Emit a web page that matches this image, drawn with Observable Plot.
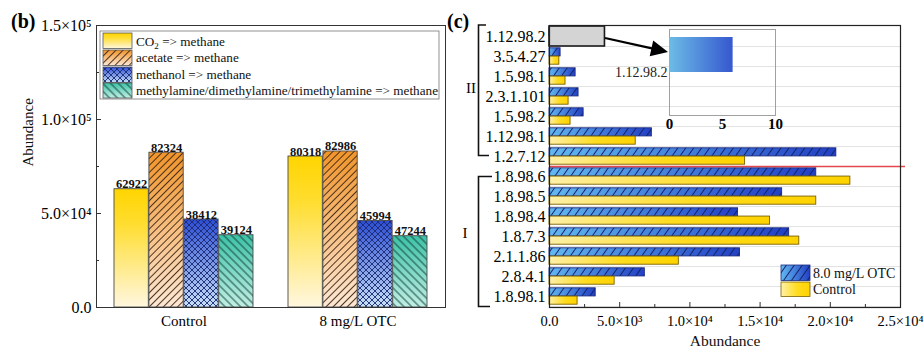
<!DOCTYPE html>
<html><head><meta charset="utf-8">
<script src="https://cdn.jsdelivr.net/npm/d3@7"></script>
<script src="https://cdn.jsdelivr.net/npm/@observablehq/plot@0.6"></script>
<style>
body{margin:0;background:#fff;}
#wrap{position:relative;width:924px;height:353px;overflow:hidden;font-family:"Liberation Serif","Times New Roman","DejaVu Serif",serif;background:#fff;}
#wrap > svg{position:absolute;}
</style></head><body><div id="wrap"></div>
<script>
// ---------- Panel (b) data ----------
const groups = ["Control", "8 mg/L OTC"];
const pathwayNames = ["CO2 => methane", "acetate => methane", "methanol => methane", "methylamine/dimethylamine/trimethylamine => methane"];
const co2Values = [62922, 80318];
const acetateValues = [82324, 82986];
const methanolValues = [46800, 45994];
const methylamineValues = [38460, 37930];
const co2Labels = ["62922", "80318"];
const acetateLabels = ["82324", "82986"];
const methanolLabels = ["38412", "45994"];
const methylamineLabels = ["39124", "47244"];
const bTicks = [0, 50000, 100000, 150000];
const bTickLabels = ["0.0", "5.0×10⁴", "1.0×10⁵", "1.5×10⁵"];
const bMinorTicks = [25000, 75000, 125000];

// ---------- Panel (c) data ----------
const enzymes = ["1.12.98.2", "3.5.4.27", "1.5.98.1", "2.3.1.101", "1.5.98.2", "1.12.98.1", "1.2.7.12",
                 "1.8.98.6", "1.8.98.5", "1.8.98.4", "1.8.7.3", "2.1.1.86", "2.8.4.1", "1.8.98.1"];
const otcAbundance = [6, 790, 1860, 2070, 2430, 7290, 20430, 19000, 16570, 13430, 17070, 13570, 6790, 3290];
const controlAbundance = [0, 700, 1140, 1360, 1500, 6140, 13930, 21430, 19000, 15710, 17790, 9210, 4640, 2000];
const cTicks = [0, 5000, 10000, 15000, 20000, 25000];
const cTickLabels = ["0.0", "5.0×10³", "1.0×10⁴", "1.5×10⁴", "2.0×10⁴", "2.5×10⁴"];
const cMinorTicks = [2500, 7500, 12500, 17500, 22500];
const seriesNamesC = ["8.0 mg/L OTC", "Control"];
const boxedEnzyme = "1.12.98.2";
const boxedExtent = 3950;          // grey placeholder box in the main panel (abundance units)
const insetValue = 6;              // 1.12.98.2 under OTC, shown in the inset
const insetTicks = [0, 5, 10];

const FONT = "Liberation Serif, Times New Roman, DejaVu Serif, serif";
const wrap = document.getElementById("wrap");
const NS = "http://www.w3.org/2000/svg";

// ---------- shared defs (gradients, hatches) ----------
const defs = `
<svg xmlns="${NS}" width="0" height="0" style="position:absolute;left:0;top:0">
<defs>
 <linearGradient id="gCO2" x1="0" y1="0" x2="0" y2="1"><stop offset="0" stop-color="#FFD500"/><stop offset="0.3" stop-color="#FFDD30"/><stop offset="1" stop-color="#FFF7DF"/></linearGradient>
 <linearGradient id="gAc" x1="0" y1="0" x2="0" y2="1"><stop offset="0" stop-color="#F0942A"/><stop offset="1" stop-color="#FDE8D6"/></linearGradient>
 <linearGradient id="gMe" x1="0" y1="0" x2="0" y2="1"><stop offset="0" stop-color="#2C4DD4"/><stop offset="1" stop-color="#C8E2F8"/></linearGradient>
 <linearGradient id="gMa" x1="0" y1="0" x2="0" y2="1"><stop offset="0" stop-color="#3CC2A6"/><stop offset="1" stop-color="#C2EFE4"/></linearGradient>
 <linearGradient id="gOtc" x1="0" y1="0" x2="1" y2="0"><stop offset="0" stop-color="#62B8F0"/><stop offset="1" stop-color="#2240C4"/></linearGradient>
 <linearGradient id="gCtl" x1="0" y1="0" x2="1" y2="0"><stop offset="0" stop-color="#FFF0A8"/><stop offset="0.55" stop-color="#FFDC20"/><stop offset="1" stop-color="#FFD300"/></linearGradient>
 <linearGradient id="gInset" x1="0" y1="0" x2="1" y2="0"><stop offset="0" stop-color="#6CBCE6"/><stop offset="1" stop-color="#3558CF"/></linearGradient>
 <pattern id="pAc" width="5" height="5" patternUnits="userSpaceOnUse" patternTransform="rotate(45)"><line x1="2.5" y1="0" x2="2.5" y2="5" stroke="#3a2410" stroke-width="0.9"/></pattern>
 <pattern id="pMa" width="5.5" height="5.5" patternUnits="userSpaceOnUse" patternTransform="rotate(-45)"><line x1="2.75" y1="0" x2="2.75" y2="5.5" stroke="#103a36" stroke-width="0.9"/></pattern>
 <pattern id="pMe" width="6" height="6" patternUnits="userSpaceOnUse"><path d="M0,0L6,6M6,0L0,6" stroke="#1a2870" stroke-width="0.9" fill="none"/></pattern>
 <pattern id="pOtc" width="6.5" height="6.5" patternUnits="userSpaceOnUse" patternTransform="rotate(35)"><line x1="3.25" y1="0" x2="3.25" y2="6.5" stroke="#13206a" stroke-width="1"/></pattern>
</defs></svg>`;
wrap.insertAdjacentHTML("beforeend", defs);

// ---------- Panel (b) ----------
const seriesB = [
  {values: co2Values, labels: co2Labels, grad: "gCO2", hatch: null},
  {values: acetateValues, labels: acetateLabels, grad: "gAc", hatch: "pAc"},
  {values: methanolValues, labels: methanolLabels, grad: "gMe", hatch: "pMe"},
  {values: methylamineValues, labels: methylamineLabels, grad: "gMa", hatch: "pMa"}
];
const bW = 460, bH = 353, bML = 96, bMR = 15, bMT = 25, bMB = 46;
const bFrameW = bW - bML - bMR;
const bStep = bFrameW / (groups.length - 0.2 + 0.2);
const bBand = bStep * 0.8;
const barW = bBand / seriesB.length;
const marksB = [];
seriesB.forEach((s, i) => {
  const rows = groups.map((g, j) => ({group: g, value: s.values[j], label: s.labels[j]}));
  const inset = {insetLeft: barW * i, insetRight: barW * (seriesB.length - 1 - i)};
  marksB.push(Plot.barY(rows, {x: "group", y: "value", fill: `url(#${s.grad})`, ...inset}));
  marksB.push(Plot.barY(rows, {x: "group", y: "value", fill: s.hatch ? `url(#${s.hatch})` : "none", stroke: "#4a4a4a", strokeWidth: 0.9, ...inset}));
  marksB.push(Plot.text(rows, {x: "group", y: "value", text: "label", dx: barW * (i + 0.5) - bBand / 2, dy: -1, lineAnchor: "bottom",
    fontWeight: "bold", fontSize: 12.5, fontFamily: FONT, fill: "#111"}));
});
const panelB = Plot.plot({
  width: bW, height: bH, marginLeft: bML, marginRight: bMR, marginTop: bMT, marginBottom: bMB,
  style: {background: "none", fontFamily: FONT, overflow: "visible"},
  x: {domain: groups, paddingInner: 0.2, paddingOuter: 0.1, label: null},
  y: {domain: [0, 150000], label: null},
  marks: [
    ...marksB,
    Plot.ruleY(bTicks, {y: d => d, insetRight: bFrameW - 5, stroke: "#333"}),
    Plot.ruleY(bMinorTicks, {y: d => d, insetRight: bFrameW - 3, stroke: "#333"}),
    Plot.frame({stroke: "#333", strokeWidth: 1}),
    Plot.axisY(bTicks, {tickSize: 0, tickPadding: 5, fontSize: 16, fontFamily: FONT, label: null,
      tickFormat: d => bTickLabels[bTicks.indexOf(d)]}),
    Plot.axisX({tickSize: 0, tickPadding: 8, fontSize: 15, fontFamily: FONT, label: null}),
    Plot.text(["Abundance"], {frameAnchor: "left", dx: -68, rotate: -90, fontSize: 15, fontFamily: FONT, fill: "#111"})
  ]
});
panelB.style.left = "0px"; panelB.style.top = "0px";
wrap.appendChild(panelB);

// ---------- Panel (c) ----------
const cW = 464, cH = 353, cML = 89, cMR = 24, cMT = 25, cMB = 46;
const cFrameH = cH - cMT - cMB;
const cStep = cFrameH / enzymes.length;
const tableC = enzymes.map((e, i) => ({enzyme: e, otc: otcAbundance[i], control: controlAbundance[i]}));
const otcInset = {insetTop: 1.8, insetBottom: cStep / 2};
const ctlInset = {insetTop: cStep / 2, insetBottom: 1.8};
const panelC = Plot.plot({
  width: cW, height: cH, marginLeft: cML, marginRight: cMR, marginTop: cMT, marginBottom: cMB,
  style: {background: "none", fontFamily: FONT, overflow: "visible"},
  x: {domain: [0, 25000], label: null},
  y: {domain: enzymes, padding: 0, label: null},
  marks: [
    Plot.ruleY(enzymes, {y: d => d, dy: cStep / 2, stroke: "#e2e2e2"}),
    Plot.barX(tableC, {y: "enzyme", x: "otc", fill: "url(#gOtc)", ...otcInset}),
    Plot.barX(tableC, {y: "enzyme", x: "otc", fill: "url(#pOtc)", stroke: "#1c2b80", strokeWidth: 0.9, ...otcInset}),
    Plot.barX(tableC, {y: "enzyme", x: "control", fill: "url(#gCtl)", stroke: "#7a6200", strokeWidth: 0.9, ...ctlInset}),
    Plot.ruleY(["1.2.7.12"], {y: d => d, dy: cStep / 2, stroke: "#e4484c", strokeWidth: 1.5, insetRight: -5}),
    Plot.barX([{enzyme: boxedEnzyme, x1: 0, x2: boxedExtent}], {y: "enzyme", x1: "x1", x2: "x2", fill: "#d4d4d4", stroke: "#1a1a1a", strokeWidth: 1.6}),
    Plot.ruleX(cTicks, {x: d => d, insetTop: cFrameH - 5, stroke: "#333"}),
    Plot.ruleX(cMinorTicks, {x: d => d, insetTop: cFrameH - 3, stroke: "#333"}),
    Plot.frame({stroke: "#222", strokeWidth: 1.2}),
    Plot.axisY({tickSize: 0, tickPadding: 4, fontSize: 16, fontFamily: FONT, label: null}),
    Plot.axisX(cTicks, {tickSize: 0, tickPadding: 8, fontSize: 14.5, fontFamily: FONT, label: null,
      tickFormat: d => cTickLabels[cTicks.indexOf(d)]}),
    Plot.text(["Abundance"], {frameAnchor: "bottom", dy: 38, fontSize: 15.5, fontFamily: FONT, fill: "#111"})
  ]
});
panelC.style.left = "460px"; panelC.style.top = "0px";
wrap.appendChild(panelC);

// ---------- Inset ----------
const insetPlot = Plot.plot({
  width: 170, height: 125, marginLeft: 49, marginRight: 15, marginTop: 9, marginBottom: 30,
  style: {background: "none", fontFamily: FONT, overflow: "visible"},
  x: {domain: [0, 10], label: null},
  y: {domain: [boxedEnzyme, " "], padding: 0, axis: null, label: null},
  marks: [
    Plot.frame({stroke: "#a0a0a0"}),
    Plot.barX([{enzyme: boxedEnzyme, v: insetValue}], {y: "enzyme", x: "v", fill: "url(#gInset)", insetTop: 8}),
    Plot.text([{enzyme: boxedEnzyme}], {y: "enzyme", x: () => 0, text: "enzyme", dy: 21.5, dx: -2, textAnchor: "end", fontSize: 14, fontFamily: FONT, fill: "#222"}),
    Plot.axisX(insetTicks, {tickSize: 0, tickPadding: 3, fontSize: 15, fontWeight: "bold", fontFamily: FONT, label: null})
  ]
});
insetPlot.style.left = "620px"; insetPlot.style.top = "20px";
wrap.appendChild(insetPlot);

// ---------- Annotations overlay ----------
const ov = `
<svg xmlns="${NS}" width="924" height="353" style="position:absolute;left:0;top:0;pointer-events:none;font-family:'Liberation Serif','Times New Roman','DejaVu Serif',serif">
 <text x="11" y="28" font-size="20" font-weight="bold">(b)</text>
 <text x="447" y="28" font-size="20" font-weight="bold">(c)</text>
 <!-- legend (b) -->
 <rect x="100" y="31" width="339" height="68" fill="#fff" stroke="#777" stroke-width="0.8"/>
 <rect x="103" y="33" width="29" height="15.5" fill="url(#gCO2)" stroke="#555" stroke-width="0.8"/>
 <rect x="103" y="50" width="29" height="15.5" fill="url(#gAc)"/><rect x="103" y="50" width="29" height="15.5" fill="url(#pAc)" stroke="#555" stroke-width="0.8"/>
 <rect x="103" y="67" width="29" height="15.5" fill="url(#gMe)"/><rect x="103" y="67" width="29" height="15.5" fill="url(#pMe)" stroke="#555" stroke-width="0.8"/>
 <rect x="103" y="83" width="29" height="15" fill="url(#gMa)"/><rect x="103" y="83" width="29" height="15" fill="url(#pMa)" stroke="#555" stroke-width="0.8"/>
 <g font-size="13.2" fill="#111">
  <text x="136" y="45.5">CO<tspan font-size="9" dy="3">2</tspan><tspan dy="-3"> =&gt; methane</tspan></text>
  <text x="136" y="62">${pathwayNames[1].replace(">", "&gt;")}</text>
  <text x="136" y="79">${pathwayNames[2].replace(">", "&gt;")}</text>
  <text x="136" y="95">${pathwayNames[3].replace(">", "&gt;")}</text>
 </g>
 <!-- brackets (c) -->
 <path d="M486,25 H478.5 V155.5 H489" fill="none" stroke="#111" stroke-width="1.6"/>
 <path d="M492,176.5 H478.5 V306.5 H490" fill="none" stroke="#111" stroke-width="1.6"/>
 <text x="471" y="90" font-size="15" text-anchor="middle" dominant-baseline="middle">II</text>
 <text x="465" y="235" font-size="15" text-anchor="middle" dominant-baseline="middle">I</text>
 <!-- arrow -->
 <line x1="605" y1="38" x2="653" y2="48.6" stroke="#000" stroke-width="2.2"/>
 <polygon points="668,52 649.7,56.3 653.2,40.6" fill="#000"/>
 <!-- legend (c) -->
 <rect x="781" y="265" width="29" height="15.5" fill="url(#gOtc)"/><rect x="781" y="265" width="29" height="15.5" fill="url(#pOtc)" stroke="#1c2b80" stroke-width="0.8"/>
 <rect x="781" y="282" width="29" height="14.5" fill="url(#gCtl)" stroke="#7a6200" stroke-width="0.8"/>
 <g font-size="14" fill="#111">
  <text x="813" y="277.5">${seriesNamesC[0]}</text>
  <text x="813" y="294">${seriesNamesC[1]}</text>
 </g>
</svg>`;
wrap.insertAdjacentHTML("beforeend", ov);
</script></body></html>
